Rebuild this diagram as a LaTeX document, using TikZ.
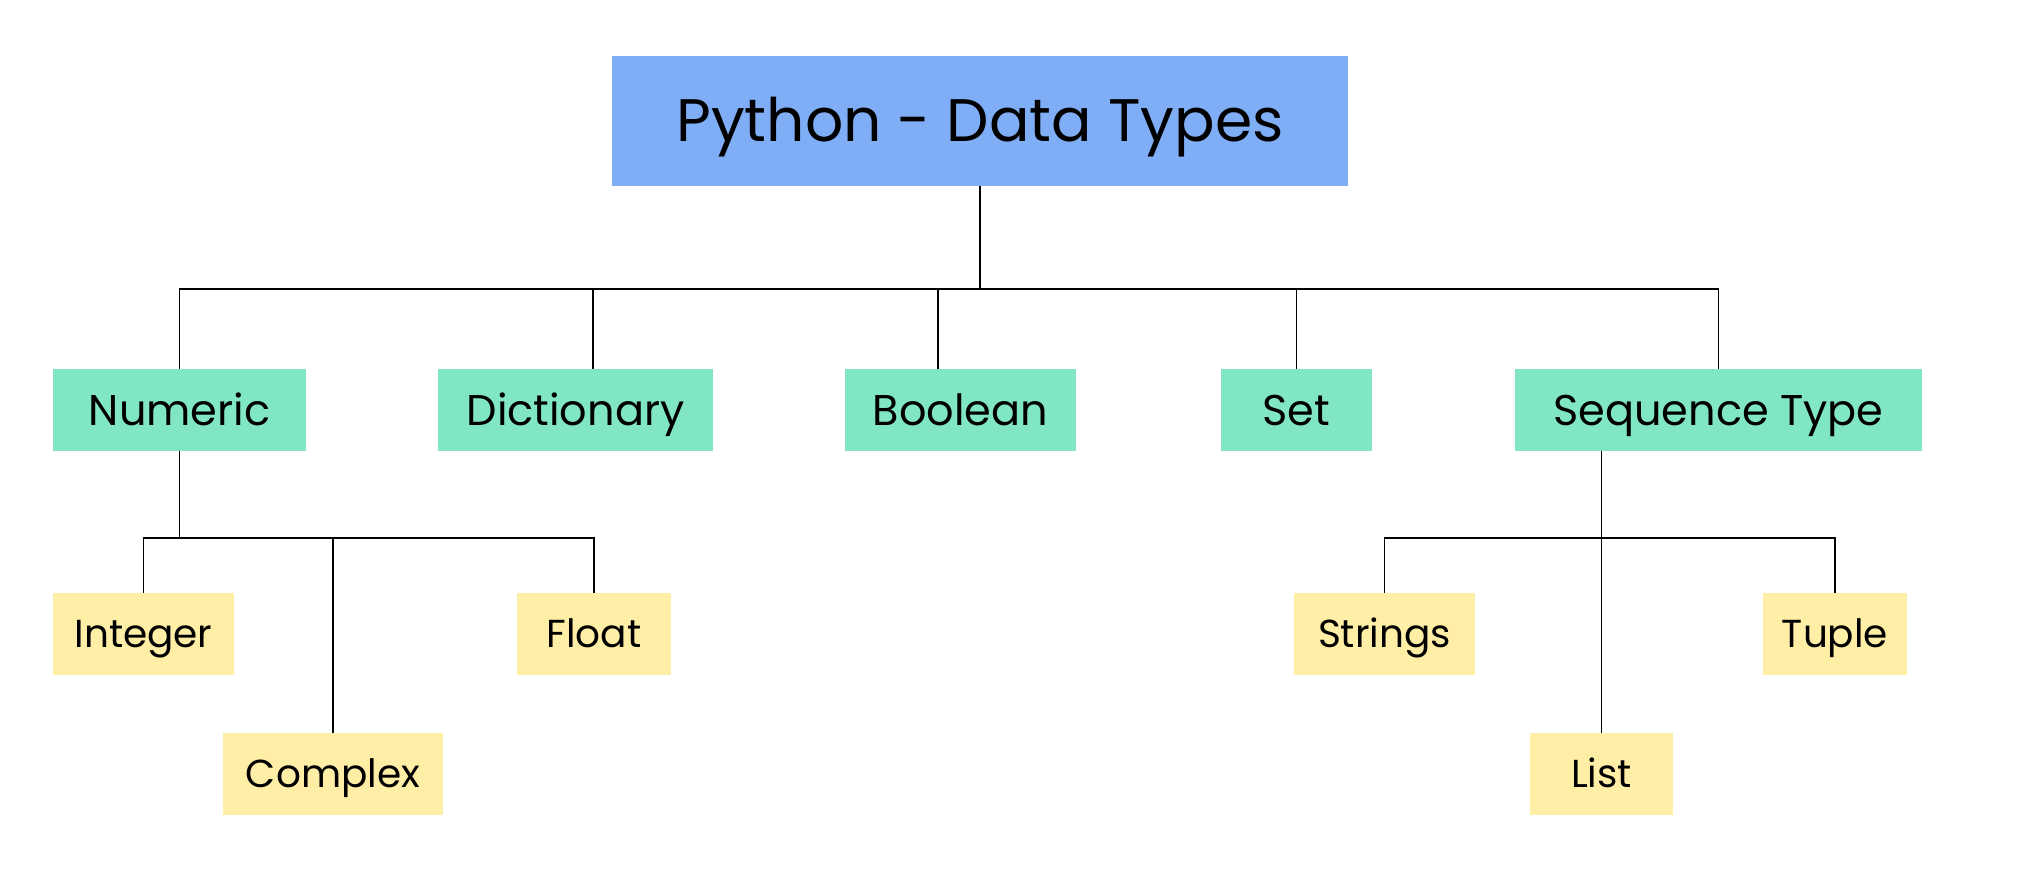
\documentclass[tikz,border=0pt]{standalone}
\usepackage{fontspec}
\setmainfont{Poppins}
\definecolor{rootblue}{RGB}{128,174,246}
\definecolor{midgreen}{RGB}{129,230,197}
\definecolor{leafyellow}{RGB}{255,238,166}
\begin{document}
\begin{tikzpicture}[x=1pt,y=-1pt,
  box/.style={inner sep=0pt,minimum height=82pt,text=black,anchor=center,text depth=0pt},
  rootbox/.style={box,fill=rootblue,minimum width=736pt,minimum height=130pt,font=\fontsize{60}{66}\selectfont,text height=42pt},
  midbox/.style={box,fill=midgreen,font=\fontsize{43}{48}\selectfont,text height=30pt},
  leafbox/.style={box,fill=leafyellow,font=\fontsize{39}{44}\selectfont,text height=27.3pt},
  conn/.style={draw=black,line width=1.8pt}]
\path[use as bounding box,fill=white] (0,0) rectangle (2029,880);
\node[rootbox] (root) at (980,121) {Python - Data Types};
\node[midbox,minimum width=253pt] (numeric) at (179.5,410) {Numeric};
\node[midbox,minimum width=275pt] (dict) at (575.5,410) {Dictionary};
\node[midbox,minimum width=231pt] (bool) at (960.5,410) {Boolean};
\node[midbox,minimum width=151pt] (set) at (1296.5,410) {Set};
\node[midbox,minimum width=407pt] (seq) at (1718.5,410) {Sequence Type};
\node[leafbox,minimum width=181pt] (integer) at (143.5,634) {Integer};
\node[leafbox,minimum width=220pt] (complex) at (333,774) {Complex};
\node[leafbox,minimum width=154pt] (float) at (594,634) {Float};
\node[leafbox,minimum width=181pt] (strings) at (1384.5,634) {Strings};
\node[leafbox,minimum width=143pt] (list) at (1601.5,774) {List};
\node[leafbox,minimum width=144pt] (tuple) at (1835,634) {Tuple};
\coordinate (bar1) at (980,289);
\coordinate (bar2) at (0,538);
% level 1 -> 2
\draw[conn] (root.south) -- (bar1);
\draw[conn] (numeric.north) -- (numeric.north |- bar1) -- (seq.north |- bar1) -- (seq.north);
\draw[conn] ([xshift=17.5pt]dict.north) -- ([xshift=17.5pt]dict.north |- bar1);
\draw[conn] ([xshift=-22.5pt]bool.north) -- ([xshift=-22.5pt]bool.north |- bar1);
\draw[conn] (set.north) -- (set.north |- bar1);
% numeric -> leaves
\draw[conn] (numeric.south) -- (numeric.south |- bar2);
\draw[conn] (integer.north) -- (integer.north |- bar2) -- (float.north |- bar2) -- (float.north);
\draw[conn] (complex.north) -- (complex.north |- bar2);
% sequence -> leaves
\draw[conn] (list.north |- seq.south) -- (list.north);
\draw[conn] (strings.north) -- (strings.north |- bar2) -- (tuple.north |- bar2) -- (tuple.north);
\end{tikzpicture}
\end{document}
